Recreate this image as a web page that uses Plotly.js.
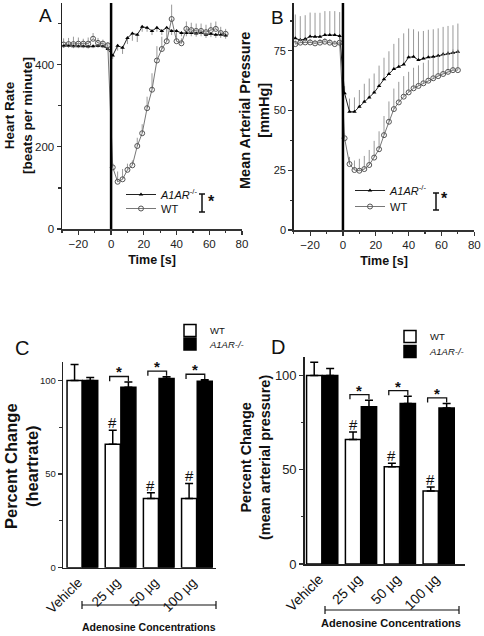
<!DOCTYPE html>
<html>
<head>
<meta charset="utf-8">
<script src="https://cdn.plot.ly/plotly-3.0.1.min.js"></script>
<style>
html,body{margin:0;padding:0;background:#fff;}
#chart{width:484px;height:636px;}
</style>
</head>
<body>
<div id="chart"></div>
<script>
// ---------- DATA ----------
// Panels A/B: time course (s)
const timeS = [-29,-26,-23,-20,-17,-14,-11,-8,-5,-2,1,4,7,10,13,16,19,22,25,28,31,34,37,40,43,46,49,52,55,58,61,64,67,70];

// A: heart rate (beats per minute)
const hrWT = [449,450,450,451,451,451,463,453,451,447,
              150,115,121,144,155,202,233,294,339,410,438,457,511,457,452,487,484,482,482,479,484,487,477,475];
const hrWTerr = [15,15,18,15,12,15,14,12,10,8,
                 10,25,25,15,12,20,22,28,40,35,30,32,35,15,12,18,18,18,18,18,18,18,15,12];
const hrKO = [446,446,445,445,445,444,445,446,445,438,
              422,446,441,465,476,473,492,490,482,490,482,490,482,482,477,477,477,476,477,473,475,473,473,471];
const hrKOerr = [5,5,5,5,5,5,5,5,5,5,
                 8,12,15,15,18,18,12,10,10,10,10,10,10,10,8,8,8,8,8,8,8,8,8,8];

// B: mean arterial pressure (mmHg)
const mapWT = [77.8,78.4,78.5,78.5,78.1,78.4,78.8,78.4,77.8,78.4,
               38.4,27.6,25.1,24.8,25.5,27.2,30.3,33.8,39.7,45.3,50.6,53.4,55.8,57.6,59.3,60.3,61.4,62.5,63.5,64.4,65.3,66.2,66.9,66.9];
const mapWTerr = [1.5,1.5,1.5,1.5,1.5,1.5,1.5,1.5,1.5,1.5,
                  2,3,4,5,5.5,6.3,7,7.5,8,8.5,8.6,8.6,8.6,8.6,8.6,8.6,8.6,8.6,8.6,8.6,8.6,8.7,8.7,8.7];
const mapKO = [80.2,79.5,79.9,81.0,80.9,80.9,81.6,81.6,81.6,81.2,
               57.2,49.5,49.5,51.6,53.7,55.4,57.5,60.3,63.1,65.3,67.4,68.3,69.3,72.3,72.5,71.1,71.8,72.3,72.5,72.9,73.5,73.9,74.2,74.6];
const mapKOerr = [10,10,10,10,10,10,10,10,10,10,
                  3,5.5,6,7,7.5,8,8,8.5,9,9.5,10.5,12,13,12,11.5,12,11.5,11.5,11.5,11.5,11.5,11.5,11.5,11.8];

// Panels C/D: percent change
const doseLabels = ['Vehicle','25 µg','50 µg','100 µg'];
const hrPctWT = [100,65.9,37,37];
const hrPctWTerr = [8.5,7.5,3,8];
const hrPctKO = [100,96.4,101,99.5];
const hrPctKOerr = [1.5,2.7,1,0.8];
const mapPctWT = [100,66.1,51.6,38.8];
const mapPctWTerr = [7,4,1.8,2.1];
const mapPctKO = [100,83.4,85.2,82.8];
const mapPctKOerr = [3.7,3.5,3.8,2.4];
const sigStar = [false,true,true,true];   // * WT vs A1AR-/-
const sigHash = [false,true,true,true];   // # vs vehicle
const injectionTime = 0;

// ---------- HELPERS ----------
const W = 484, H = 636;
const px = x => x / W;
const py = y => 1 - y / H;
const zeros = n => new Array(n).fill(0);
const FONT = 'Liberation Sans, Arial, sans-serif';
const KO_NAME = '<i>A1AR</i><sup>-/-</sup>';

function lineTrace(y, err, up, name, isKO, xa, ya, leg) {
  return {
    type: 'scatter', mode: 'lines+markers', x: timeS, y: y, name: name,
    xaxis: xa, yaxis: ya, legend: leg, showlegend: true,
    line: {color: isKO ? '#222' : '#777', width: 1},
    marker: isKO ? {symbol: 'triangle-up', size: 4, color: '#000'}
                 : {symbol: 'circle-open', size: 5, color: '#555', line: {width: 1}},
    error_y: {type: 'data', symmetric: false,
              array: up ? err : zeros(err.length),
              arrayminus: up ? zeros(err.length) : err,
              color: '#999', thickness: 1, width: 0}
  };
}

const BARGAP = 0.18, GROUPGAP = 0.04;
function barTrace(y, err, isKO, xa, ya, leg) {
  return {
    type: 'bar', x: doseLabels, y: y, name: isKO ? '<i>A1AR-/-</i>' : 'WT',
    xaxis: xa, yaxis: ya, legend: leg,
    marker: {color: isKO ? '#000' : '#fff', line: {color: '#000', width: 1.5}},
    error_y: {type: 'data', symmetric: false, array: err, arrayminus: zeros(err.length),
              color: '#000', thickness: 1.5, width: 4}
  };
}

const traces = [
  lineTrace(hrKO, hrKOerr, false, KO_NAME, true, 'x', 'y', 'legend'),
  lineTrace(hrWT, hrWTerr, true, 'WT', false, 'x', 'y', 'legend2'),
  lineTrace(mapKO, mapKOerr, true, KO_NAME, true, 'x2', 'y2', 'legend3'),
  lineTrace(mapWT, mapWTerr, true, 'WT', false, 'x2', 'y2', 'legend4'),
  barTrace(hrPctWT, hrPctWTerr, false, 'x3', 'y3', 'legend5'),
  barTrace(hrPctKO, hrPctKOerr, true, 'x3', 'y3', 'legend6'),
  barTrace(mapPctWT, mapPctWTerr, false, 'x4', 'y4', 'legend7'),
  barTrace(mapPctKO, mapPctKOerr, true, 'x4', 'y4', 'legend8')
];

// ---------- AXES ----------
function timeAxis(domain, anchor) {
  return {domain: domain, anchor: anchor, range: [-30, 80], tick0: -20, dtick: 20,
    ticks: 'outside', ticklen: 4, tickwidth: 1.2, tickcolor: '#333',
    minor: {dtick: 10, tick0: -30, ticks: 'outside', ticklen: 2.5, tickcolor: '#333'},
    showline: true, linecolor: '#333', linewidth: 1.5, showgrid: false, zeroline: false,
    tickfont: {size: 11.5, color: '#222'},
    title: {text: '<b>Time [s]</b>', font: {size: 12.5, color: '#111'}, standoff: 6}};
}
function valAxis(domain, anchor, range, dtick, fsize) {
  return {domain: domain, anchor: anchor, range: range, dtick: dtick,
    ticks: 'outside', ticklen: 4, tickwidth: 1.2, tickcolor: '#333',
    minor: {dtick: dtick / 2, ticks: 'outside', ticklen: 2.5, tickcolor: '#333'},
    showline: true, linecolor: '#222', linewidth: 1.5, showgrid: false, zeroline: false,
    tickfont: {size: fsize, color: '#222'}};
}
function catAxis(domain, anchor, range, fsize, shift) {
  return {domain: domain, anchor: anchor, type: 'category', range: range,
    showline: true, linecolor: '#222', linewidth: 1.5, ticks: '', showgrid: false,
    tickangle: -45, ticklabelshift: shift, tickfont: {size: fsize, color: '#111'}};
}

// ---------- ANNOTATIONS & SHAPES ----------
const annotations = [];
const shapes = [];
function txt(x, y, text, size, opts) {
  annotations.push(Object.assign({xref: 'paper', yref: 'paper', x: px(x), y: py(y), text: text,
    xanchor: 'center', yanchor: 'middle', showarrow: false,
    font: {size: size, color: '#111', family: FONT}}, opts || {}));
}
function pline(x0, y0, x1, y1, w) {
  shapes.push({type: 'line', xref: 'paper', yref: 'paper', x0: px(x0), y0: py(y0), x1: px(x1), y1: py(y1),
    line: {color: '#111', width: w || 1.5}});
}

// panel letters
txt(45, 15, 'A', 19);
txt(277, 17, 'B', 19);
txt(22, 348, 'C', 20);
txt(278, 347, 'D', 20);

// y titles
txt(19, 116, '<b>Heart Rate<br>[beats per minute]</b>', 13.5, {textangle: -90});
txt(255, 110, '<b>Mean Arterial Pressure<br>[mmHg]</b>', 14.5, {textangle: -90});
txt(22, 466, '<b>Percent Change<br>(heartrate)</b>', 16.5, {textangle: -90});
txt(256, 458, '<b>Percent Change<br>(mean arterial pressure)</b>', 14.5, {textangle: -90});

// significance bracket next to legends A/B
pline(202, 194, 202, 212, 1.5); pline(199, 194, 205, 194, 1.5); pline(199, 212, 205, 212, 1.5);
txt(211, 201, '<b>*</b>', 16);
pline(436, 193, 436, 210, 1.5); pline(433, 193, 439, 193, 1.5); pline(433, 210, 439, 210, 1.5);
txt(444, 198, '<b>*</b>', 16);

// adenosine concentration brackets
pline(82, 605, 216, 605, 1.2); pline(82, 601, 82, 609, 1.2); pline(216, 601, 216, 609, 1.2);
txt(149, 627, '<b>Adenosine Concentrations</b>', 10.5);
pline(325, 610, 459, 610, 1.2); pline(325, 606, 325, 614, 1.2); pline(459, 606, 459, 614, 1.2);
txt(391, 623, '<b>Adenosine Concentrations</b>', 11);

// injection line at t = 0 in A and B
['', '2'].forEach(s => {
  shapes.push({type: 'line', xref: 'x' + s, yref: 'y' + s + ' domain', x0: injectionTime, x1: injectionTime,
    y0: 0, y1: 1, line: {color: '#000', width: 2.5}});
});

// bar panel significance marks
const off = (1 - BARGAP) / 4;
function barMarks(wt, wtErr, ko, koErr, xa, ya, starSize) {
  for (let i = 0; i < doseLabels.length; i++) {
    if (sigHash[i]) {
      annotations.push({xref: xa, yref: ya, x: i - off, y: wt[i] + wtErr[i], text: '#', showarrow: false,
        xanchor: 'center', yanchor: 'bottom', font: {size: 15, color: '#111', family: FONT}, yshift: -3});
    }
    if (sigStar[i]) {
      const yb = ko[i] + koErr[i] + 3;
      const x0 = i - off - 0.08, x1 = i + off;
      shapes.push({type: 'path', xref: xa, yref: ya,
        path: `M ${x0} ${yb - 2.5} L ${x0} ${yb} L ${x1} ${yb} L ${x1} ${yb - 2.5}`,
        line: {color: '#111', width: 1.3}});
      annotations.push({xref: xa, yref: ya, x: (x0 + x1) / 2, y: yb, text: '<b>*</b>', showarrow: false,
        xanchor: 'center', yanchor: 'bottom', font: {size: starSize, color: '#111', family: FONT}, yshift: -6});
    }
  }
}
barMarks(hrPctWT, hrPctWTerr, hrPctKO, hrPctKOerr, 'x3', 'y3', 15);
barMarks(mapPctWT, mapPctWTerr, mapPctKO, mapPctKOerr, 'x4', 'y4', 15);

function legendAt(x, y, size) {
  return {x: px(x), y: py(y), xanchor: 'left', yanchor: 'top', bgcolor: 'rgba(0,0,0,0)',
    font: {size: size, color: '#111', family: FONT}, itemwidth: 30, tracegroupgap: 0,
    traceorder: 'normal'};
}

const layout = {
  width: W, height: H, margin: {l: 0, r: 0, t: 0, b: 0},
  paper_bgcolor: '#fff', plot_bgcolor: 'rgba(0,0,0,0)',
  font: {family: FONT, color: '#111'},
  barmode: 'group', bargap: BARGAP, bargroupgap: GROUPGAP,
  xaxis: timeAxis([px(62), px(242)], 'y'),
  yaxis: valAxis([py(229), py(3)], 'x', [0, 550], 200, 11.5),
  xaxis2: timeAxis([px(293.7), px(474.3)], 'y2'),
  yaxis2: valAxis([py(230), py(3)], 'x2', [0, 95], 25, 11),
  xaxis3: catAxis([px(63.3), px(216)], 'y3', [-0.5, 3.5], 13.5, -4),
  yaxis3: valAxis([py(567.7), py(361.7)], 'x3', [0, 110], 50, 9.5),
  xaxis4: catAxis([px(304.7), px(464.7)], 'y4', [-0.45, 3.67], 14, -3),
  yaxis4: valAxis([py(564), py(356.7)], 'x4', [0, 110], 50, 13),
  legend: legendAt(121, 180, 11),
  legend2: legendAt(121, 194, 11),
  legend3: legendAt(350, 176, 11),
  legend4: legendAt(350, 192, 11),
  legend5: legendAt(170, 316, 9.5),
  legend6: legendAt(170, 329.5, 9.5),
  legend7: legendAt(390, 322, 9.5),
  legend8: legendAt(390, 337, 9.5),
  annotations: annotations,
  shapes: shapes,
  showlegend: true
};

Plotly.newPlot('chart', traces, layout, {displayModeBar: false, staticPlot: true});
</script>
</body>
</html>
